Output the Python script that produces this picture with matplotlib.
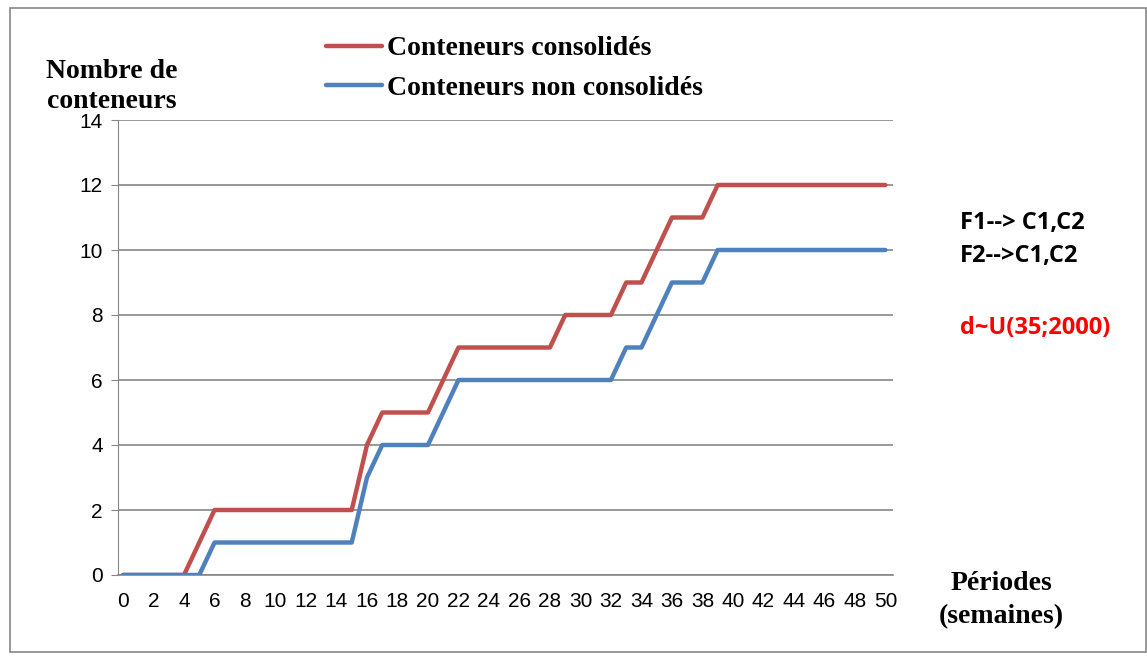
import matplotlib
matplotlib.use("Agg")
import matplotlib.pyplot as plt
from matplotlib.patches import Rectangle

# données
semaines = list(range(0, 51))
consolides = [0, 0, 0, 0, 0, 1, 2, 2, 2, 2, 2, 2, 2, 2, 2, 2, 4, 5, 5, 5, 5, 6, 7,
              7, 7, 7, 7, 7, 7, 8, 8, 8, 8, 9, 9, 10, 11, 11, 11, 12] + [12] * 11
non_consolides = [0, 0, 0, 0, 0, 0, 1, 1, 1, 1, 1, 1, 1, 1, 1, 1, 3, 4, 4, 4, 4, 5, 6,
                  6, 6, 6, 6, 6, 6, 6, 6, 6, 6, 7, 7, 8, 9, 9, 9, 10] + [10] * 11
yticks = list(range(0, 15, 2))
xticks = list(range(0, 51, 2))

rouge = "#C0504D"
bleu = "#4F81BD"
gris = "#868686"

W, H = 1147, 660
fig = plt.figure(figsize=(W / 100, H / 100), dpi=100)
ax = fig.add_axes([118 / W, 85 / H, 775 / W, 455 / H])

ax.plot(semaines, consolides, color=rouge, lw=3.2, solid_capstyle="round",
        solid_joinstyle="round", label="Conteneurs consolidés", zorder=3)
ax.plot(semaines, non_consolides, color=bleu, lw=3.2, solid_capstyle="round",
        solid_joinstyle="round", label="Conteneurs non consolidés", zorder=3)

ax.set_xlim(-0.33, 50.5)
ax.set_ylim(0, 14)
ax.set_yticks(yticks)
ax.set_xticks(xticks)
ax.grid(axis="y", color=gris, lw=1.2)
ax.set_axisbelow(True)
for s in ["top", "right"]:
    ax.spines[s].set_visible(False)
ax.spines["left"].set_color(gris)
ax.spines["bottom"].set_color(gris)
ax.spines["bottom"].set_linewidth(1.2)
ax.tick_params(axis="x", length=0, pad=12, labelsize=15)
ax.tick_params(axis="y", length=5, color=gris, pad=6, labelsize=15)
for lab in ax.get_xticklabels() + ax.get_yticklabels():
    lab.set_fontfamily("Liberation Sans")

serif = {"family": "Liberation Serif", "weight": "bold", "size": 20}
fig.text(112 / W, 1 - 71 / H, "Nombre de", ha="center", va="center", fontdict=serif)
fig.text(112 / W, 1 - 101 / H, "conteneurs", ha="center", va="center", fontdict=serif)
fig.text(1001 / W, 1 - 583 / H, "Périodes", ha="center", va="center", fontdict=serif)
fig.text(1001 / W, 1 - 617 / H, "(semaines)", ha="center", va="center", fontdict=serif)

leg = fig.legend(loc="upper left", bbox_to_anchor=(301 / W, 1 - 11 / H), frameon=False,
                 prop={"family": "Liberation Serif", "weight": "bold", "size": 20},
                 handlelength=2.0, handletextpad=0.18, labelspacing=0.5)

sans = {"family": "Open Sans", "weight": "bold", "size": 17}
fig.text(960 / W, 1 - 223 / H, "F1--> C1,C2", ha="left", va="center", fontdict=sans)
fig.text(960 / W, 1 - 256 / H, "F2-->C1,C2", ha="left", va="center", fontdict=sans)
fig.text(960 / W, 1 - 328 / H, "d~U(35;2000)", ha="left", va="center", color="red",
         fontdict=sans)

fig.patches.append(Rectangle((10 / W, 1 - 652 / H), 1136 / W, 644 / H,
                             transform=fig.transFigure, fill=False, ec=gris, lw=1.2))

fig.savefig("out.png", dpi=100)
